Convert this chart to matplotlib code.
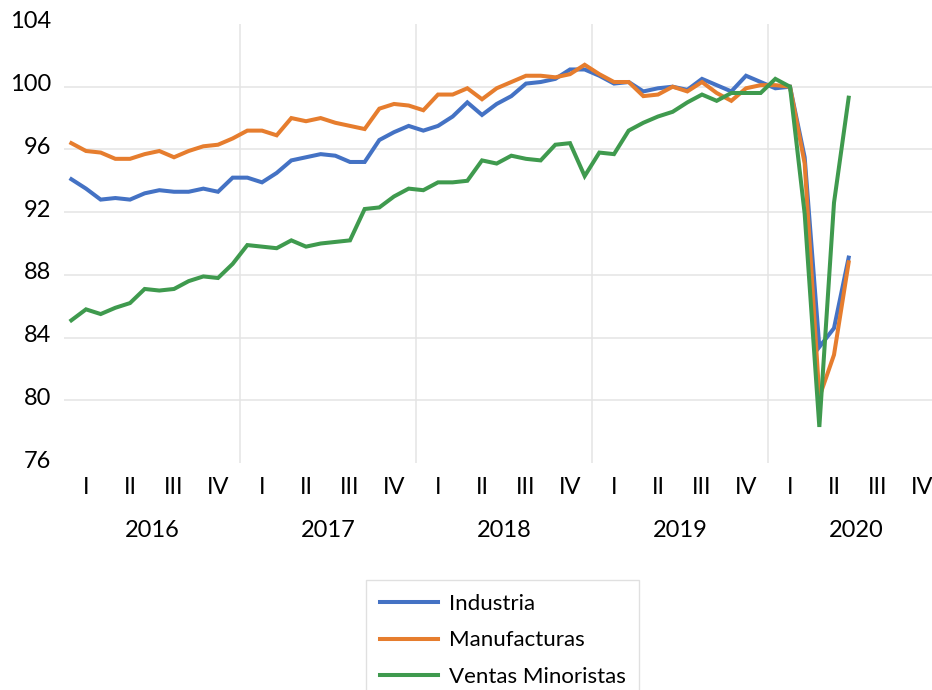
import matplotlib
matplotlib.use("Agg")
import matplotlib.pyplot as plt
import matplotlib.transforms as mtransforms

plt.rcParams["font.family"] = ["Lato", "DejaVu Sans"]

# Monthly index, Jan 2016 .. Jun 2020
years = ["2016", "2017", "2018", "2019", "2020"]
quarters = ["I", "II", "III", "IV"]

industria = [
    94.1, 93.5, 92.8, 92.9, 92.8, 93.2, 93.4, 93.3, 93.3, 93.5, 93.3, 94.2,
    94.2, 93.9, 94.5, 95.3, 95.5, 95.7, 95.6, 95.2, 95.2, 96.6, 97.1, 97.5,
    97.2, 97.5, 98.1, 99.0, 98.2, 98.9, 99.4, 100.2, 100.3, 100.5, 101.1, 101.1,
    100.7, 100.2, 100.3, 99.7, 99.9, 100.0, 99.8, 100.5, 100.1, 99.7, 100.7, 100.3,
    99.9, 100.0, 95.5, 83.4, 84.6, 89.1,
]
manufacturas = [
    96.4, 95.9, 95.8, 95.4, 95.4, 95.7, 95.9, 95.5, 95.9, 96.2, 96.3, 96.7,
    97.2, 97.2, 96.9, 98.0, 97.8, 98.0, 97.7, 97.5, 97.3, 98.6, 98.9, 98.8,
    98.5, 99.5, 99.5, 99.9, 99.2, 99.9, 100.3, 100.7, 100.7, 100.6, 100.8, 101.4,
    100.8, 100.3, 100.3, 99.4, 99.5, 100.0, 99.7, 100.3, 99.6, 99.1, 99.9, 100.1,
    100.1, 100.0, 95.1, 80.2, 82.9, 88.8,
]
ventas = [
    85.1, 85.8, 85.5, 85.9, 86.2, 87.1, 87.0, 87.1, 87.6, 87.9, 87.8, 88.7,
    89.9, 89.8, 89.7, 90.2, 89.8, 90.0, 90.1, 90.2, 92.2, 92.3, 93.0, 93.5,
    93.4, 93.9, 93.9, 94.0, 95.3, 95.1, 95.6, 95.4, 95.3, 96.3, 96.4, 94.3,
    95.8, 95.7, 97.2, 97.7, 98.1, 98.4, 99.0, 99.5, 99.1, 99.6, 99.6, 99.6,
    100.5, 100.0, 91.9, 78.3, 92.6, 99.3,
]
series = [
    ("Industria", industria, "#4472C4"),
    ("Manufacturas", manufacturas, "#E67D2E"),
    ("Ventas Minoristas", ventas, "#3F9A4E"),
]

W, H = 932, 690
fig = plt.figure(figsize=(W / 100, H / 100), dpi=100)
# plot area runs a bit past the right edge, like the cropped original
ax = fig.add_axes([64 / W, 1 - 463 / H, (944 - 64) / W, (463 - 24) / H])

months = list(range(len(industria)))
for name, vals, col in series:
    ax.plot(months, vals, color=col, lw=2.9, label=name, solid_joinstyle="miter")

n_months = len(years) * 12
ax.set_xlim(-0.5, n_months - 0.5)
ax.set_ylim(76, 104)

# horizontal grid 80..100, vertical grid at year boundaries
for v in range(80, 101, 4):
    ax.axhline(v, color="#e4e4e4", lw=1.1, zorder=0)
for k in range(1, len(years)):
    ax.axvline(12 * k - 0.5, color="#e4e4e4", lw=1.1, zorder=0)

for s in ax.spines.values():
    s.set_visible(False)

ax.set_yticks(range(76, 105, 4))
ax.tick_params(axis="y", length=0, pad=9, labelsize=17)
shift = mtransforms.ScaledTranslation(0, 4 / 100, fig.dpi_scale_trans)
for lab in ax.get_yticklabels():
    lab.set_transform(lab.get_transform() + shift)

ax.set_xticks([])
trans = mtransforms.blended_transform_factory(ax.transData, ax.transAxes)
for yi, yr in enumerate(years):
    for qi, q in enumerate(quarters):
        ax.text(12 * yi + 3 * qi + 1, -0.055, q, transform=trans,
                ha="center", va="center", fontsize=17)
    ax.text(12 * yi + 5.5, -0.153, yr, transform=trans,
            ha="center", va="center", fontsize=17)

leg = fig.legend(loc="upper left", bbox_to_anchor=(366 / W, 1 - 580 / H),
                 fontsize=16, frameon=True, fancybox=False,
                 handlelength=2.6, handletextpad=0.5, labelspacing=0.75,
                 borderpad=0.62, borderaxespad=0)
leg.get_frame().set_edgecolor("#d9d9d9")
leg.get_frame().set_linewidth(1.0)

fig.savefig("out.png", dpi=100)
